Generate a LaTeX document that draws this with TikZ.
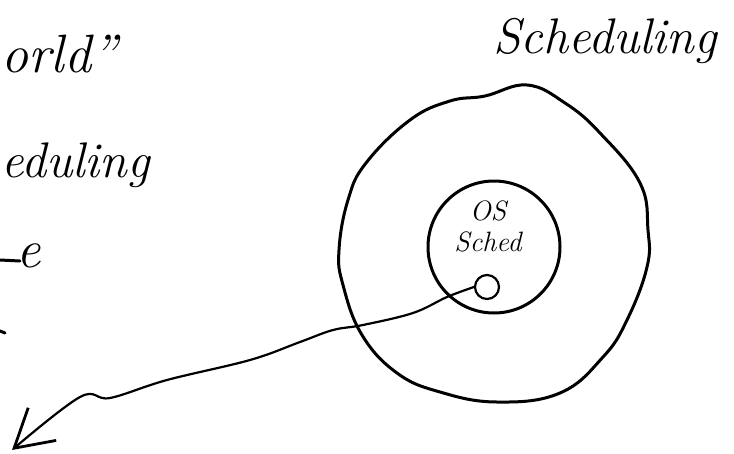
\documentclass[tikz,border=0pt]{standalone}
\usepackage{fontspec}
\usepackage{tikz}
\usetikzlibrary{arrows.meta,positioning,calc}

\begin{document}
\begin{tikzpicture}[
    x=1pt, y=-1pt,
    ink/.style={line width=3pt, line cap=round, line join=round, black},
    core/.style={circle, draw, line width=3pt, minimum size=132pt, inner sep=0pt},
    hole/.style={circle, draw, line width=2.2pt, minimum size=24pt, inner sep=0pt},
    link/.style={line width=2.2pt, line cap=round,
        -{Straight Barb[length=37pt, width=43pt, line width=2.8pt]}},
    hand/.style={inner sep=0pt, font=\fontsize{54}{60}\selectfont\itshape},
    small/.style={inner sep=0pt, align=center, font=\fontsize{28}{31}\selectfont\itshape}
]
    \useasboundingbox (0,0) rectangle (734,453);

    % Left notes, cut off at the page edge
    \node[hand, anchor=base east] (world) at (117,72) {orld''};
    \node[hand, font=\fontsize{50}{60}\selectfont\itshape, anchor=base west]
        (sched) at (1,177) {eduling};
    \node[hand, anchor=base west] (tail) at (16,267) {e};
    \draw[ink] (0,260) -- (20,261);
    \draw[ink] (0,331) -- (5,333);

    % Title on the right
    \node[hand, font=\fontsize{50}{60}\selectfont\itshape, anchor=base west]
        (title) at (493,53) {Scheduling};

    % Outer ring, drawn by hand
    \draw[ink] plot[smooth cycle, tension=0.7] coordinates {
        (527,85) (565,103) (600,133) (640,183) (648,230) (647,267)
        (627,320) (603,357) (560,393) (497,402) (440,392) (397,373)
        (362,335) (343,285) (339,250) (348,200) (366,163) (410,120)
        (450,101) (485,96)};

    % Inner circle with its label
    \node[core] (os) at (494,247) {};
    \node[small] (oslabel) at (488,226) {OS\\Sched};

    % Small hole and the line leaving it
    \node[hole] (hole) at (487,287) {};
    \coordinate (tip) at (12,450);
    \draw[link] plot[smooth, tension=0.6] coordinates {
        (hole.west) (447,297) (413,313) (363,325) (333,330) (300,342)
        (250,360) (167,380) (110,398) (80,397) (tip)};
\end{tikzpicture}
\end{document}
